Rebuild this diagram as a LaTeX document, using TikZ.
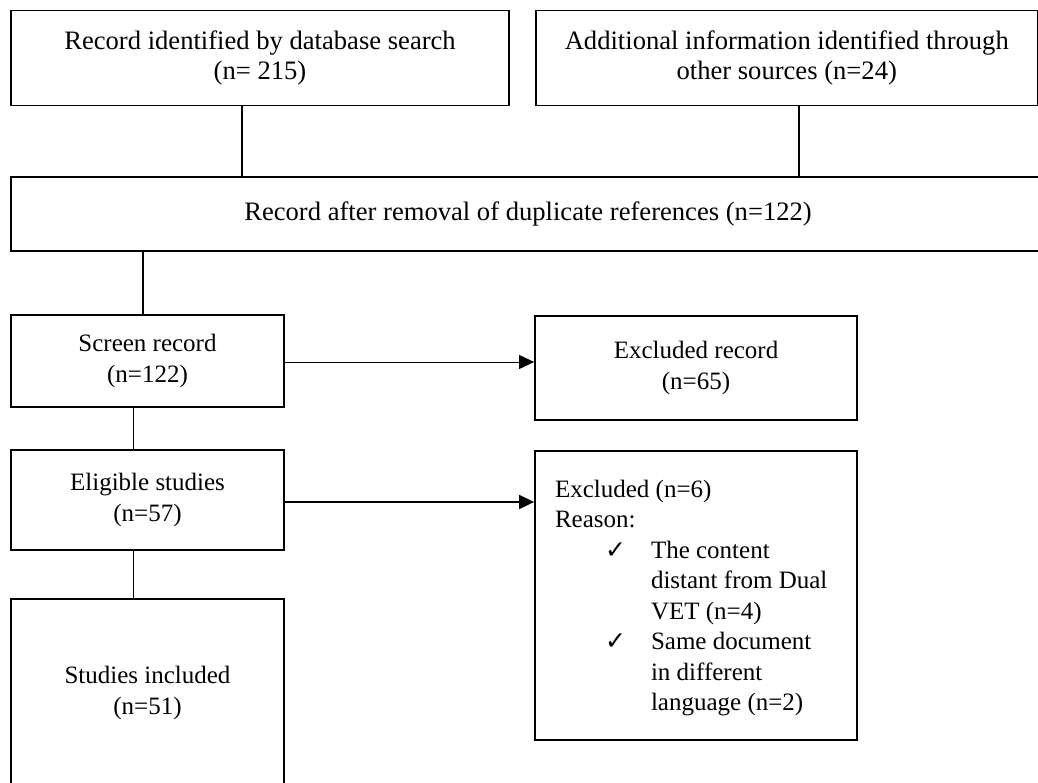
\documentclass[tikz,border=0pt]{standalone}
\usepackage{fontspec}
\setmainfont{Liberation Serif}
\newfontfamily\symfont{DejaVu Sans}
\usetikzlibrary{calc,arrows.meta}
\newcommand{\chk}{\makebox[46pt][l]{\symfont\fontsize{25}{25}\selectfont ✓}}
\begin{document}
\begin{tikzpicture}[x=1pt,y=-1pt,
  box/.style={draw,line width=1.8pt,rectangle,inner sep=0pt,align=center,
    font=\fontsize{25}{30.5}\selectfont},
  bigbox/.style={box,font=\fontsize{26.6}{30}\selectfont},
  thick link/.style={line width=1.8pt},
  thin link/.style={line width=1pt},
  arr/.style={-{Triangle[length=15pt,width=14pt]}}]
\useasboundingbox[fill=white] (0,0) rectangle (1038,783);
\node[bigbox,minimum width=498pt,minimum height=95pt] (b1) at (260,58)
  {Record identified by database search\\(n= 215)};
\node[bigbox,minimum width=501.5pt,minimum height=95pt] (b2) at (786.75,58)
  {Additional information identified through\\other sources (n=24)};
\node[bigbox,minimum width=1034pt,minimum height=74pt] (b3) at (528,214)
  {\raisebox{3pt}{Record after removal of duplicate references (n=122)}};
\node[box,minimum width=273pt,minimum height=92pt] (scr) at (147.5,361)
  {Screen record\\(n=122)};
\node[box,minimum width=322pt,minimum height=104pt] (exr) at (696,368)
  {Excluded record\\(n=65)};
\node[box,minimum width=273pt,minimum height=100pt] (elig) at (147.5,500)
  {Eligible studies\\(n=57)};
\node[box,minimum width=322pt,minimum height=289pt,text width=282pt,align=flush left] (exc) at (696,595.5)
  {\rule{0pt}{22.5pt}Excluded (n=6)\\
   Reason:\\
   \hspace*{50pt}\chk The content\\
   \hspace*{96pt}distant from Dual\\
   \hspace*{96pt}VET (n=4)\\
   \hspace*{50pt}\chk Same document\\
   \hspace*{96pt}in different\\
   \hspace*{96pt}language (n=2)};
\node[box,minimum width=273pt,minimum height=188pt] (stud) at (147.5,693)
  {Studies included\\(n=51)};
% connectors
\coordinate (p1) at ($(b1.south west)+(232,0)$);
\draw[thick link] (p1) -- (p1 |- b3.north);
\coordinate (p2) at ($(b2.south west)+(264,0)$);
\draw[thick link] (p2) -- (p2 |- b3.north);
\coordinate (p3) at ($(scr.north west)+(133,0)$);
\draw[thick link] (p3 |- b3.south) -- (p3);
\coordinate (p4) at ($(scr.south west)+(123,0)$);
\draw[thin link] (p4) -- (p4 |- elig.north);
\coordinate (p5) at ($(elig.south west)+(123,0)$);
\draw[thin link] (p5) -- (p5 |- stud.north);
\draw[thin link,arr] ($(scr.east)+(0,1)$) -- ($(scr.east -| exr.west)+(0,1)$);
\draw[thick link,arr] ($(elig.east)+(0,2)$) -- ($(elig.east -| exc.west)+(0,2)$);
\end{tikzpicture}
\end{document}
